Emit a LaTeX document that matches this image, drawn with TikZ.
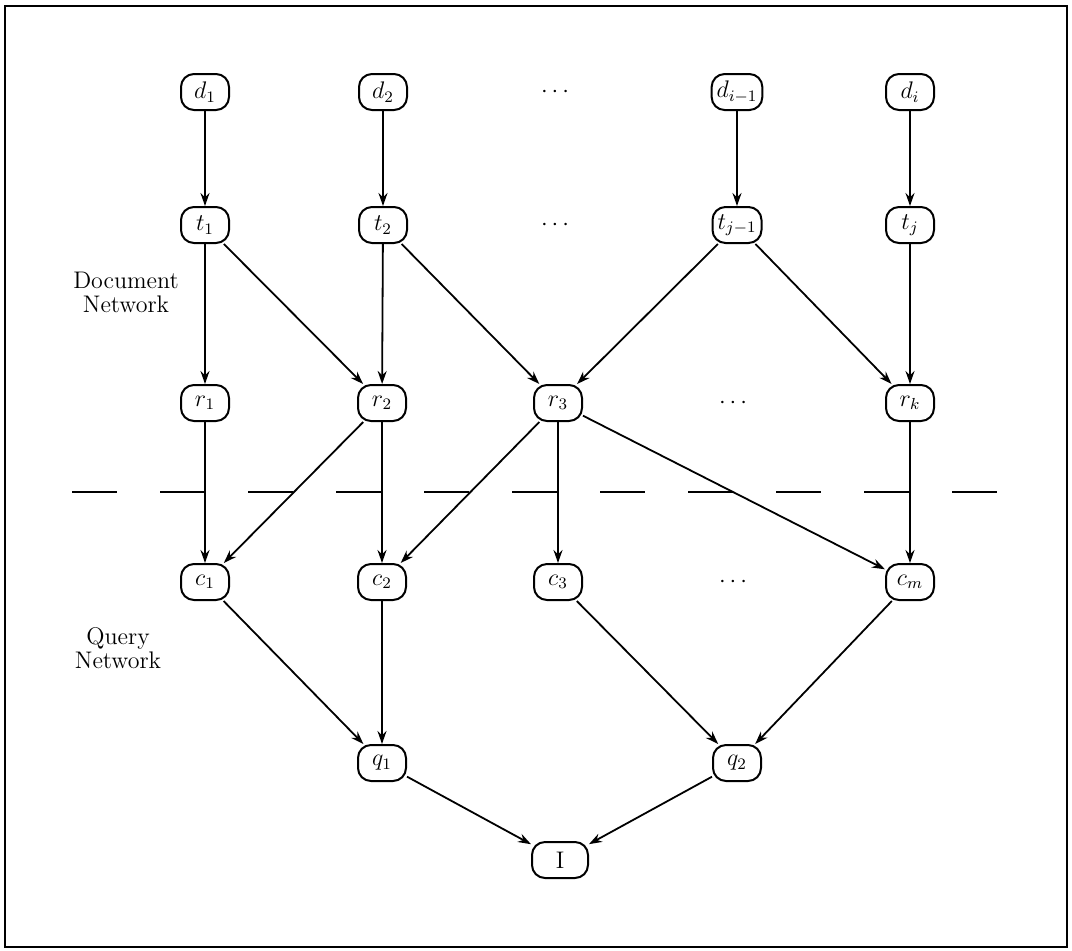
\documentclass[tikz,border=0pt]{standalone}
\usetikzlibrary{arrows.meta}
\begin{document}
\begin{tikzpicture}[x=0.5pt,y=-0.5pt,
  every node/.style={font=\fontsize{12}{12}\selectfont},
  nd/.style={draw,line width=1pt,rounded corners=6.5pt,minimum height=18pt,minimum width=24pt,inner sep=2.5pt},
  txt/.style={align=center,inner sep=0pt},
  ar/.style={line width=0.9pt,-{Stealth[length=6.5pt,width=4.5pt]}}]
\useasboundingbox (0,0) rectangle (1072,950);
\draw[line width=1pt] (5,6) rectangle (1067,947);
% row d
\node[nd] (d1) at (205,92) {$d_1$};
\node[nd] (d2) at (383,92) {$d_2$};
\node[txt] (dd) at (555,92) {$\cdots$};
\node[nd] (di1) at (737,92) {$d_{i-1}$};
\node[nd] (di) at (910,92) {$d_i$};
% row t
\node[nd] (t1) at (205,225) {$t_1$};
\node[nd] (t2) at (383,225) {$t_2$};
\node[txt] (td) at (555,225) {$\cdots$};
\node[nd] (tj1) at (737,225) {$t_{j-1}$};
\node[nd] (tj) at (910,225) {$t_j$};
% row r
\node[nd] (r1) at (205,403) {$r_1$};
\node[nd] (r2) at (382,403) {$r_2$};
\node[nd] (r3) at (558,403) {$r_3$};
\node[txt] (rd) at (733,403) {$\cdots$};
\node[nd] (rk) at (910,403) {$r_k$};
% row c
\node[nd] (c1) at (205,582) {$c_1$};
\node[nd] (c2) at (382,582) {$c_2$};
\node[nd] (c3) at (558,582) {$c_3$};
\node[txt] (cd) at (733,582) {$\cdots$};
\node[nd] (cm) at (910,582) {$c_m$};
% row q
\node[nd] (q1) at (382,763) {$q_1$};
\node[nd] (q2) at (737,763) {$q_2$};
\node[nd,minimum width=28pt] (I) at (560,860) {I};
% labels
\node[txt] (docnet) at (126,292) {Document\\Network};
\node[txt] (qnet) at (118,648) {Query\\Network};
% dashed separator
\coordinate (sepL) at (72,492);
\coordinate (sepR) at (1008,492);
\draw[line width=1pt,dash pattern=on 22.5pt off 21.5pt] (sepL) -- (sepR);
% edges
\draw[ar] (d1) -- (t1);
\draw[ar] (d2) -- (t2);
\draw[ar] (di1) -- (tj1);
\draw[ar] (di) -- (tj);
\draw[ar] (t1) -- (r1);
\draw[ar] (t1) -- (r2);
\draw[ar] (t2) -- (r2);
\draw[ar] (t2) -- (r3);
\draw[ar] (tj1) -- (r3);
\draw[ar] (tj1) -- (rk);
\draw[ar] (tj) -- (rk);
\draw[ar] (r1) -- (c1);
\draw[ar] (r2) -- (c1);
\draw[ar] (r2) -- (c2);
\draw[ar] (r3) -- (c2);
\draw[ar] (r3) -- (c3);
\draw[ar] (r3) -- (cm);
\draw[ar] (rk) -- (cm);
\draw[ar] (c1) -- (q1);
\draw[ar] (c2) -- (q1);
\draw[ar] (c3) -- (q2);
\draw[ar] (cm) -- (q2);
\draw[ar] (q1) -- (I);
\draw[ar] (q2) -- (I);
\end{tikzpicture}
\end{document}
